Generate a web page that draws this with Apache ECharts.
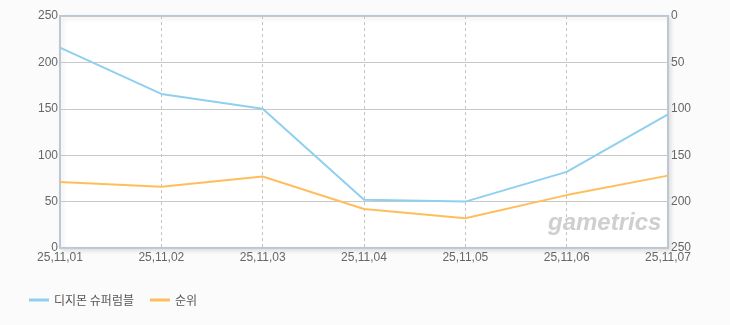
<!DOCTYPE html>
<html><head><meta charset="utf-8">
<script src="https://cdn.jsdelivr.net/npm/echarts@6/dist/echarts.min.js"></script>
<style>html,body{margin:0;padding:0;background:#fbfbfb}#c{width:730px;height:325px}</style>
</head><body><div id="c"></div>
<script>
var categories = ['25,11,01','25,11,02','25,11,03','25,11,04','25,11,05','25,11,06','25,11,07'];
var seriesNames = ['디지몬 슈퍼럼블','순위'];
var playerValues = [216, 166, 150, 52, 50, 82, 144];
var rankValues = [179, 184, 173, 208, 218, 193, 172];
var leftTicks = [0, 50, 100, 150, 200, 250];

var chart = echarts.init(document.getElementById('c'));
var axisLabel = {color:'#666', fontSize:12, fontFamily:'Liberation Sans'};
chart.setOption({
  backgroundColor:'#fbfbfb',
  animation:false,
  grid:{left:60, right:62, top:16, bottom:77, show:true, backgroundColor:'#ffffff', borderColor:'#b9c9da', borderWidth:2,
    shadowColor:'rgba(0,0,0,0.10)', shadowBlur:4, shadowOffsetX:2, shadowOffsetY:2},
  legend:{left:24, bottom:14, itemWidth:20, itemHeight:3, itemGap:16, icon:'rect',
    textStyle:{color:'#555', fontSize:12, fontFamily:'Noto Sans CJK KR'}, data:seriesNames},
  xAxis:{type:'category', data:categories, boundaryGap:false,
    axisLine:{show:false}, axisTick:{show:false},
    axisLabel:Object.assign({margin:4}, axisLabel),
    splitLine:{show:true, lineStyle:{color:'#c4c4c4', type:[3,3], width:1}}},
  yAxis:[
    {type:'value', min:0, max:250, interval:50, position:'left',
      axisLine:{show:false}, axisTick:{show:false},
      axisLabel:Object.assign({margin:2}, axisLabel),
      splitLine:{show:true, lineStyle:{color:'#c8c8c8', width:1}}},
    {type:'value', min:0, max:250, interval:50, inverse:true, position:'right',
      axisLine:{show:false}, axisTick:{show:false},
      axisLabel:Object.assign({margin:3}, axisLabel),
      splitLine:{show:false}}
  ],
  graphic:[{type:'text', left:548, top:211, z:1,
    style:{text:'gametrics', fill:'#cfcfcf', font:'italic bold 24px "Liberation Sans"'}}],
  series:[
    {name:seriesNames[0], type:'line', data:playerValues, yAxisIndex:0, symbol:'none',
      lineStyle:{color:'#8fd0ef', width:2}, itemStyle:{color:'#8fd0ef'}, z:3},
    {name:seriesNames[1], type:'line', data:rankValues, yAxisIndex:1, symbol:'none',
      lineStyle:{color:'#ffbe5c', width:2}, itemStyle:{color:'#ffbe5c'}, z:3}
  ]
});
</script></body></html>
